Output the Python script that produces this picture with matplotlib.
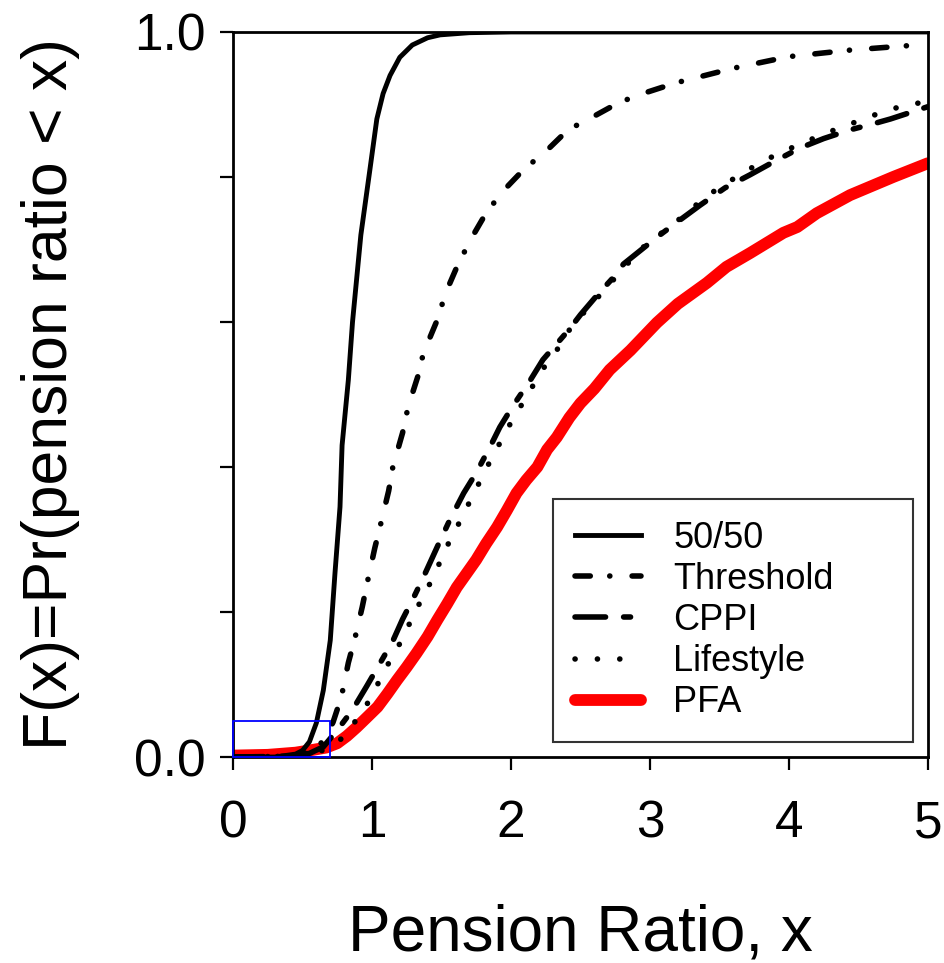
import numpy as np
import matplotlib
matplotlib.use("Agg")
import matplotlib.pyplot as plt
from matplotlib.patches import Rectangle

plt.rcParams["font.family"] = ["Liberation Sans", "DejaVu Sans"]
plt.rcParams["lines.scale_dashes"] = False

# ---- data ----
x_5050 = [0, 0.3, 0.45, 0.5, 0.55, 0.60, 0.65, 0.70, 0.734, 0.77, 0.785, 0.83, 0.86, 0.88,
          0.92, 0.985, 1.035, 1.08, 1.13, 1.2, 1.29, 1.4, 1.49, 1.7, 2.0, 5.0]
y_5050 = [0, 0.0, 0.004, 0.009, 0.021, 0.047, 0.092, 0.161, 0.254, 0.345, 0.43, 0.52, 0.60,
          0.64, 0.72, 0.81, 0.88, 0.915, 0.94, 0.965, 0.982, 0.992, 0.996, 0.999, 1.0, 1.0]

x_thr = [0, 0.4, 0.5, 0.6, 0.66, 0.72, 0.78, 0.83, 0.88, 0.93, 0.97, 1.02, 1.07, 1.12, 1.15,
         1.22, 1.26, 1.33, 1.37, 1.47, 1.53, 1.62, 1.72, 1.82, 1.94, 2.09, 2.26, 2.41, 2.59,
         2.78, 2.98, 3.19, 3.6, 4.0, 4.44, 4.85, 5.0]
y_thr = [0, 0.001, 0.004, 0.012, 0.025, 0.048, 0.083, 0.13, 0.166, 0.207, 0.244, 0.288, 0.327,
         0.367, 0.40, 0.447, 0.483, 0.525, 0.557, 0.603, 0.64, 0.68, 0.717, 0.75, 0.78, 0.81,
         0.837, 0.865, 0.883, 0.903, 0.917, 0.93, 0.95, 0.966, 0.975, 0.981, 0.983]

x_cppi = [0, 0.4, 0.55, 0.65, 0.75, 0.86, 0.96, 1.06, 1.15, 1.22, 1.30, 1.37, 1.47, 1.56, 1.66,
          1.75, 1.85, 1.92, 2.01, 2.14, 2.23, 2.42, 2.5, 2.62, 2.73, 2.81, 2.94, 3.05, 3.19,
          3.36, 3.54, 3.72, 3.9, 4.08, 4.25, 4.44, 4.6, 4.73, 4.89, 5.0]
y_cppi = [0, 0.001, 0.005, 0.014, 0.037, 0.065, 0.097, 0.13, 0.16, 0.19, 0.22, 0.248, 0.29,
          0.327, 0.364, 0.392, 0.428, 0.455, 0.483, 0.52, 0.548, 0.59, 0.61, 0.637, 0.66, 0.68,
          0.70, 0.717, 0.737, 0.761, 0.785, 0.803, 0.822, 0.84, 0.853, 0.865, 0.873, 0.88,
          0.89, 0.897]

x_life = [0, 0.4, 0.55, 0.66, 0.76, 0.86, 0.95, 1.02, 1.09, 1.17, 1.24, 1.31, 1.38, 1.45, 1.51,
          1.58, 1.65, 1.72, 1.79, 1.86, 1.94, 2.01, 2.09, 2.17, 2.25, 2.34, 2.42, 2.52, 2.63,
          2.93, 3.2, 3.41, 3.54, 3.67, 3.8, 3.94, 4.08, 4.22, 4.37, 4.51, 4.65, 4.8, 4.96, 5.0]
y_life = [0, 0.001, 0.004, 0.01, 0.021, 0.044, 0.068, 0.092, 0.12, 0.145, 0.172, 0.2, 0.226,
          0.251, 0.279, 0.306, 0.331, 0.359, 0.385, 0.412, 0.44, 0.465, 0.49, 0.516, 0.541,
          0.564, 0.589, 0.612, 0.635, 0.70, 0.74, 0.774, 0.79, 0.806, 0.82, 0.834, 0.845,
          0.857, 0.868, 0.878, 0.888, 0.897, 0.903, 0.905]

x_pfa = [0, 0.25, 0.45, 0.58, 0.67, 0.75, 0.82, 0.89, 0.96, 1.04, 1.11, 1.18, 1.25, 1.32, 1.4,
         1.47, 1.54, 1.61, 1.68, 1.75, 1.82, 1.90, 1.97, 2.04, 2.11, 2.19, 2.26, 2.33, 2.42,
         2.50, 2.60, 2.71, 2.86, 3.05, 3.2, 3.41, 3.55, 3.72, 3.96, 4.06, 4.2, 4.44, 4.75, 5.0]
y_pfa = [0.002, 0.003, 0.006, 0.01, 0.013, 0.019, 0.029, 0.041, 0.054, 0.069, 0.087, 0.106,
         0.124, 0.143, 0.166, 0.189, 0.211, 0.234, 0.253, 0.272, 0.294, 0.317, 0.34, 0.364,
         0.382, 0.40, 0.424, 0.441, 0.468, 0.488, 0.508, 0.534, 0.561, 0.599, 0.625, 0.654,
         0.676, 0.695, 0.723, 0.731, 0.75, 0.775, 0.80, 0.819]

# zoom box (lower-left corner)
box_x = (0.0, 0.7)
box_y = (0.0, 0.05)

# ---- figure ----
fig = plt.figure(figsize=(9.44, 9.63), dpi=100)
ax = fig.add_axes([0.2468, 0.2139, 0.7362, 0.7529])

l_pfa, = ax.plot(x_pfa, y_pfa, color="red", lw=8.5, solid_capstyle="round",
                 solid_joinstyle="round", zorder=2, label="PFA")
l_5050, = ax.plot(x_5050, y_5050, color="black", lw=3.5, solid_joinstyle="round",
                  zorder=3, label="50/50")
l_thr, = ax.plot(x_thr, y_thr, color="black", lw=4, dash_capstyle="round", zorder=3,
                 dashes=(11, 14, 0.1, 16), label="Threshold")
l_cppi, = ax.plot(x_cppi, y_cppi, color="black", lw=4, dash_capstyle="round", zorder=3,
                  dashes=(22, 13, 5, 13), label="CPPI")
l_life, = ax.plot(x_life, y_life, color="black", lw=4, dash_capstyle="round", zorder=3,
                  dashes=(0.1, 16), label="Lifestyle")

ax.add_patch(Rectangle((box_x[0], box_y[0]), box_x[1] - box_x[0], box_y[1] - box_y[0],
                       fill=False, edgecolor="blue", lw=1.3, zorder=5, clip_on=False))

ax.set_xlim(0, 5)
ax.set_ylim(0, 1)
ax.set_xticks([0, 1, 2, 3, 4, 5])
ax.set_yticks([0, 0.2, 0.4, 0.6, 0.8, 1.0])
ax.set_yticklabels(["0.0", "", "", "", "", "1.0"])
ax.tick_params(direction="out", length=9.5, width=1.6, labelsize=37)
ax.tick_params(axis="x", pad=21)
ax.tick_params(axis="y", pad=10)
for s in ax.spines.values():
    s.set_linewidth(2)

ax.set_xlabel("Pension Ratio, x", fontsize=46, va="center")
ax.xaxis.set_label_coords(0.5, -0.243)
ax.set_ylabel("F(x)=Pr(pension ratio < x)", fontsize=45, va="center")
ax.yaxis.set_label_coords(-0.263, 0.5)

leg = ax.legend(handles=[l_5050, l_thr, l_cppi, l_life, l_pfa], loc="lower left",
                bbox_to_anchor=(0.4604, 0.0207, 0.518, 0.33), mode="expand",
                borderaxespad=0, fontsize=26, frameon=True, fancybox=False,
                edgecolor="black", handlelength=1.83, handletextpad=0.9,
                labelspacing=0.17, borderpad=0.6)
leg.get_frame().set_linewidth(1.5)

fig.savefig("out.png", dpi=100)
